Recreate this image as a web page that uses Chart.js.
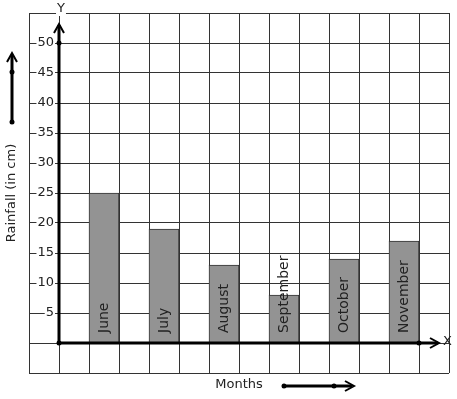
<!DOCTYPE html>
<html>
<head>
<meta charset="utf-8">
<script src="https://cdn.jsdelivr.net/npm/chart.js@4.4.0/dist/chart.umd.min.js"></script>
<style>
    html, body { margin: 0; padding: 0; background: #fff; }
    canvas { display: block; }
</style>
</head>
<body>
<canvas id="rainChart" width="457" height="399"></canvas>
<script>
// Rainfall per month (cm)
var months = ['June', 'July', 'August', 'September', 'October', 'November'];
var rainfall = [25, 19, 13, 8, 14, 17];
// grid column each month sits in (graph paper has 14 columns)
var monthCols = [2, 4, 6, 8, 10, 12];
var gridCols = 14;
var yTicks = [5, 10, 15, 20, 25, 30, 35, 40, 45, 50];

var cellLabels = [];
var cellValues = [];
for (var i = 0; i < gridCols; i++) {
    cellLabels.push('');
    cellValues.push(null);
}
months.forEach(function (m, i) {
    cellLabels[monthCols[i]] = m;
    cellValues[monthCols[i]] = rainfall[i];
});

var FONT = '"DejaVu Sans", sans-serif';

function dot(ctx, x, y) {
    ctx.beginPath();
    ctx.arc(x, y, 2.5, 0, Math.PI * 2);
    ctx.fill();
}

// chevron arrow head, dir: 'up' or 'right'
function head(ctx, x, y, dir) {
    ctx.save();
    ctx.lineWidth = 2;
    ctx.beginPath();
    if (dir === 'up') {
        ctx.moveTo(x - 5, y + 9);
        ctx.lineTo(x, y);
        ctx.lineTo(x + 5, y + 9);
    } else {
        ctx.moveTo(x - 9, y - 5);
        ctx.lineTo(x, y);
        ctx.lineTo(x - 9, y + 5);
    }
    ctx.stroke();
    ctx.restore();
}

function labelOnWhite(ctx, text, x, y, align) {
    var w = ctx.measureText(text).width;
    var left = align === 'right' ? x - w : (align === 'center' ? x - w / 2 : x);
    ctx.fillStyle = '#fff';
    ctx.fillRect(left - 1, y - 7, w + 2, 14);
    ctx.fillStyle = '#222';
    ctx.textAlign = align;
    ctx.fillText(text, x, y);
}

// axes, arrows and all the texts of the graph paper
var paperPlugin = {
    id: 'paper',
    afterDraw: function (chart) {
        var ctx = chart.ctx;
        var xs = chart.scales.x;
        var ys = chart.scales.y;
        var cell = xs.getPixelForValue(1) - xs.getPixelForValue(0);
        var axisX = xs.getPixelForValue(0) + cell / 2;
        var zeroY = ys.getPixelForValue(0);
        var lastX = xs.getPixelForValue(gridCols - 2) + cell / 2;

        ctx.save();
        ctx.font = '13px ' + FONT;
        ctx.textBaseline = 'middle';

        // y tick labels
        yTicks.forEach(function (t) {
            labelOnWhite(ctx, String(t), axisX - 5, ys.getPixelForValue(t), 'right');
        });

        // axis lines
        ctx.strokeStyle = '#000';
        ctx.fillStyle = '#000';
        ctx.lineWidth = 3;
        ctx.beginPath();
        ctx.moveTo(axisX, zeroY);
        ctx.lineTo(axisX, ys.getPixelForValue(53));
        ctx.moveTo(axisX, zeroY);
        ctx.lineTo(lastX + 19, zeroY);
        ctx.stroke();
        head(ctx, axisX, ys.getPixelForValue(53) - 1, 'up');
        head(ctx, lastX + 20, zeroY, 'right');
        dot(ctx, axisX, zeroY);
        dot(ctx, axisX, ys.getPixelForValue(50));
        dot(ctx, lastX, zeroY);

        ctx.font = '13px ' + FONT;
        labelOnWhite(ctx, 'Y', axisX + 2, chart.chartArea.top - 4, 'center');
        ctx.fillStyle = '#222';
        ctx.textAlign = 'left';
        ctx.fillText('X', lastX + 24, zeroY - 1);

        // left decorative arrow
        ctx.strokeStyle = '#000';
        ctx.fillStyle = '#000';
        ctx.lineWidth = 3;
        ctx.beginPath();
        ctx.moveTo(12, 122);
        ctx.lineTo(12, 55);
        ctx.stroke();
        head(ctx, 12, 53, 'up');
        dot(ctx, 12, 72);
        dot(ctx, 12, 122);

        // bottom decorative arrow
        ctx.beginPath();
        ctx.moveTo(284, 386);
        ctx.lineTo(352, 386);
        ctx.stroke();
        head(ctx, 354, 386, 'right');
        dot(ctx, 284, 386);
        dot(ctx, 334, 386);

        // axis titles
        ctx.fillStyle = '#222';
        ctx.textAlign = 'center';
        ctx.fillText('Months', 239, 385);
        ctx.save();
        ctx.translate(12, 193);
        ctx.rotate(-Math.PI / 2);
        ctx.fillText('Rainfall (in cm)', 0, 0);
        ctx.restore();

        // month names inside the bars
        ctx.font = '14px ' + FONT;
        ctx.textAlign = 'left';
        chart.getDatasetMeta(0).data.forEach(function (bar, i) {
            var name = cellLabels[i];
            if (!name) return;
            ctx.save();
            ctx.translate(bar.x, zeroY - 10);
            ctx.rotate(-Math.PI / 2);
            ctx.fillText(name, 0, 0);
            ctx.restore();
        });
        ctx.restore();
    }
};

var ctx = document.getElementById('rainChart').getContext('2d');
var rainChart = new Chart(ctx, {
    type: 'bar',
    data: {
        labels: cellLabels,
        datasets: [{
            data: cellValues,
            backgroundColor: '#939393',
            borderColor: '#333',
            borderWidth: 1,
            barPercentage: 1,
            categoryPercentage: 1
        }]
    },
    options: {
        responsive: false,
        animation: false,
        devicePixelRatio: 1,
        layout: {
            padding: { left: 29, right: 8, top: 13, bottom: 26 }
        },
        plugins: {
            legend: { display: false },
            tooltip: { enabled: false }
        },
        scales: {
            x: {
                grid: { color: '#333', lineWidth: 1, drawTicks: false, offset: true },
                border: { display: false },
                ticks: { display: false }
            },
            y: {
                min: -5,
                max: 55,
                grid: { color: '#333', lineWidth: 1, drawTicks: false },
                border: { display: false },
                ticks: { display: false, stepSize: 5 }
            }
        }
    },
    plugins: [paperPlugin]
});
</script>
</body>
</html>
